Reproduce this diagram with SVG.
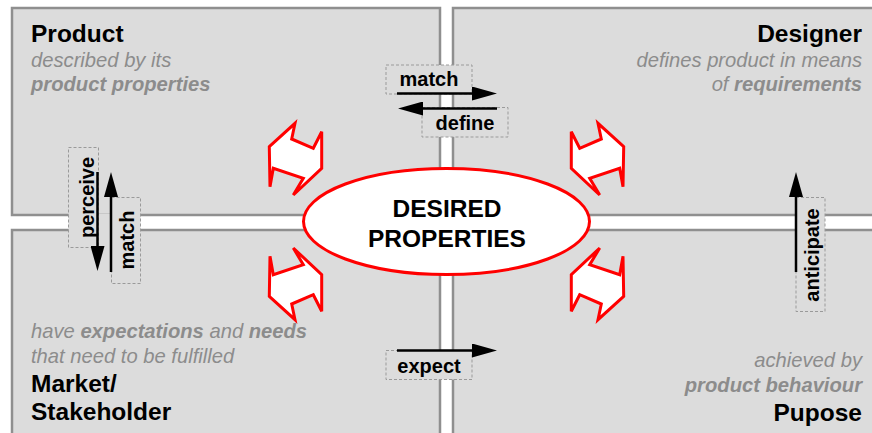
<svg xmlns="http://www.w3.org/2000/svg" width="872" height="433" viewBox="0 0 872 433">
<defs>
<style>
.panel{fill:#dcdcdc;stroke:#8f8f8f;stroke-width:2.5}
.title{font-family:"Liberation Sans",Arial,sans-serif;font-weight:bold;font-size:24.5px;fill:#000}
.desc{font-family:"Liberation Sans",Arial,sans-serif;font-style:italic;font-size:20.2px;fill:#8c8c8c}
.b{font-weight:bold}
.lbl{font-family:"Liberation Sans",Arial,sans-serif;font-weight:bold;font-size:20px;fill:#000}
.box{fill:#dcdcdc;stroke:#9a9a9a;stroke-width:1;stroke-dasharray:3,2}
.con{stroke:#000;stroke-width:2.5;fill:none;marker-end:url(#ah)}
.red{fill:#fff;stroke:#ff0000;stroke-width:3;stroke-linejoin:miter}
.big{font-family:"Liberation Sans",Arial,sans-serif;font-weight:bold;font-size:24.5px;fill:#000;text-anchor:middle}
</style>
<marker id="ah" markerWidth="25" markerHeight="14" refX="0" refY="7" orient="auto" markerUnits="userSpaceOnUse">
<path d="M0,0 L25,7 L0,14 z" fill="#000"/>
</marker>
<polygon id="dbl" class="red" points="269.3,146.7 295,123.3 291.7,139 313.3,148.3 321.7,131.7 321.7,168.3 293.3,195 303.3,178.3 273.3,168.3 270,186.7"/>
</defs>
<rect width="872" height="433" fill="#fff"/>

<g id="product">
<rect class="panel" x="12" y="8" width="428" height="207"/>
<text class="title" x="31" y="42">Product</text>
<text class="desc" x="31" y="67">described by its</text>
<text class="desc b" x="31" y="91">product properties</text>
</g>

<g id="designer">
<rect class="panel" x="453" y="8" width="430" height="207"/>
<text class="title" x="862" y="42" text-anchor="end">Designer</text>
<text class="desc" x="862" y="67" text-anchor="end">defines product in means</text>
<text class="desc" x="862" y="91" text-anchor="end">of <tspan class="b">requirements</tspan></text>
</g>

<g id="market">
<rect class="panel" x="12" y="230" width="428" height="215"/>
<text class="desc" x="31" y="338">have <tspan class="b">expectations</tspan> and <tspan class="b">needs</tspan></text>
<text class="desc" x="31" y="363">that need to be fulfilled</text>
<text class="title" x="31" y="392">Market/</text>
<text class="title" x="31" y="420">Stakeholder</text>
</g>

<g id="purpose">
<rect class="panel" x="453" y="230" width="430" height="215"/>
<text class="desc" x="862" y="367" text-anchor="end">achieved by</text>
<text class="desc b" x="862" y="392" text-anchor="end">product behaviour</text>
<text class="title" x="862" y="421" text-anchor="end">Pupose</text>
</g>

<g id="red-arrows">
<use href="#dbl"/>
<use href="#dbl" transform="matrix(-1 0 0 1 893 0)"/>
<use href="#dbl" transform="matrix(1 0 0 -1 0 443)"/>
<use href="#dbl" transform="matrix(-1 0 0 -1 893 443)"/>
</g>

<g id="desired">
<ellipse cx="446.5" cy="221.5" rx="143" ry="53" fill="#fff" stroke="#ff0000" stroke-width="3"/>
<text class="big" x="447" y="217">DESIRED</text>
<text class="big" x="447" y="247">PROPERTIES</text>
</g>

<g id="connectors">
<rect x="98" y="214" width="13" height="18" fill="#dcdcdc"/>
<rect class="box" x="386" y="65" width="86" height="29"/>
<text class="lbl" x="429" y="86" text-anchor="middle">match</text>
<line class="con" x1="397" y1="93.5" x2="472" y2="93.5"/>
<rect class="box" x="422" y="107.5" width="86" height="29.5"/>
<text class="lbl" x="465" y="130" text-anchor="middle">define</text>
<line class="con" x1="497" y1="108.5" x2="423" y2="108.5"/>

<rect class="box" x="68.5" y="147.5" width="30" height="100"/>
<text class="lbl" transform="translate(93.5,197.5) rotate(-90)" text-anchor="middle">perceive</text>
<line class="con" x1="97.5" y1="172" x2="97.5" y2="246"/>
<rect class="box" x="111.5" y="197.5" width="29" height="86"/>
<text class="lbl" transform="translate(134,240) rotate(-90)" text-anchor="middle">match</text>
<line class="con" x1="111" y1="272" x2="111" y2="197"/>

<rect class="box" x="796" y="197.5" width="29" height="114"/>
<text class="lbl" transform="translate(818.5,255) rotate(-90)" text-anchor="middle">anticipate</text>
<line class="con" x1="796" y1="272" x2="796" y2="197"/>

<rect class="box" x="386" y="350.5" width="86" height="29"/>
<text class="lbl" x="429" y="373" text-anchor="middle">expect</text>
<line class="con" x1="397" y1="350.5" x2="472" y2="350.5"/>
</g>
</svg>
